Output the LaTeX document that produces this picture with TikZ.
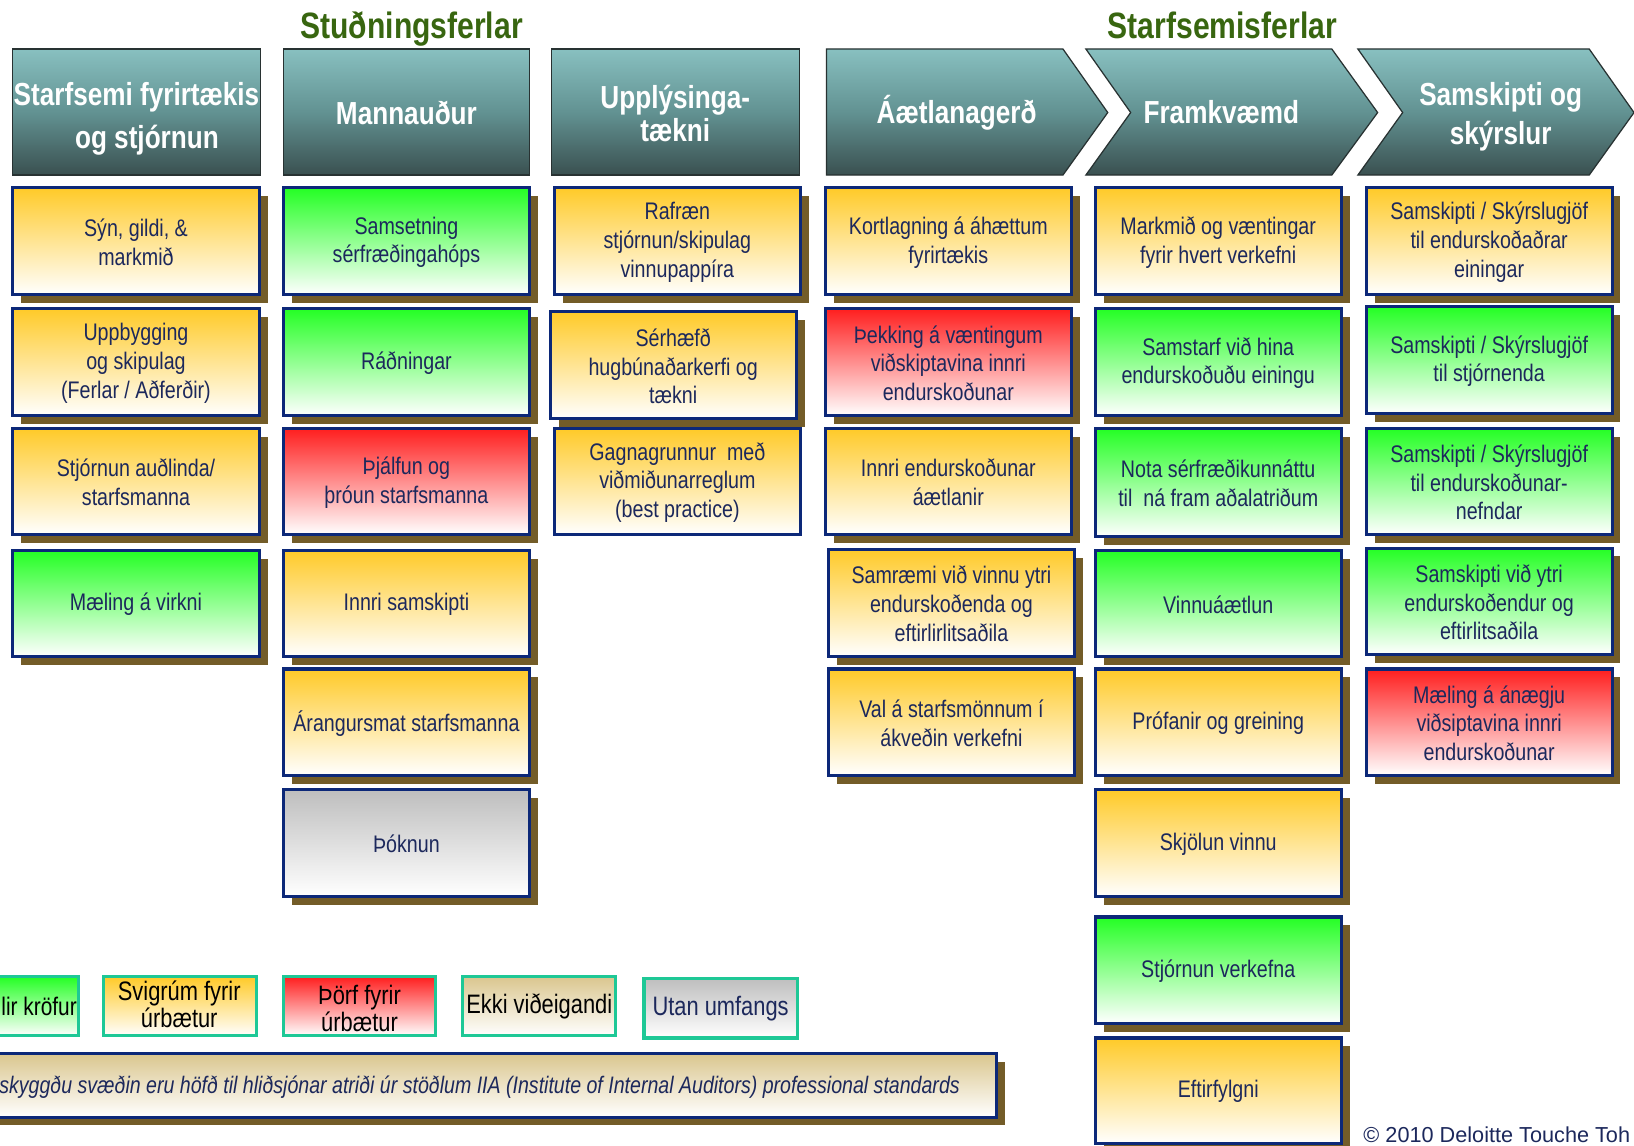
\documentclass[tikz,border=0pt]{standalone}
\usepackage{fontspec}
\setmainfont{Liberation Sans}
\newfontfamily\narrow{Liberation Sans}[FakeStretch=0.82]
\usetikzlibrary{fit}
\definecolor{navytxt}{RGB}{28,40,92}
\definecolor{boxborder}{RGB}{12,40,120}
\definecolor{shadowc}{RGB}{115,92,40}
\definecolor{hdtop}{RGB}{136,192,192}
\definecolor{hdmid}{RGB}{98,146,146}
\definecolor{hdbot}{RGB}{58,80,80}
\definecolor{hdline}{RGB}{40,50,50}
\definecolor{ylwc}{RGB}{255,202,40}
\definecolor{grnc}{RGB}{36,255,36}
\definecolor{redc}{RGB}{255,30,30}
\definecolor{gryc}{RGB}{190,190,190}
\definecolor{tanc}{RGB}{218,198,142}
\definecolor{titlegreen}{RGB}{56,102,16}
\definecolor{legborder}{RGB}{30,200,150}
\tikzset{
  cell/.style={draw=boxborder, line width=1.5pt, inner sep=0pt, outer sep=0pt},
  celltext/.style={inner sep=0pt, align=center, text=navytxt, font=\narrow\fontsize{11.5}{13.8}\selectfont},
  ycell/.style={cell, top color=ylwc, bottom color=white},
  gcell/.style={cell, top color=grnc, bottom color=white},
  rcell/.style={cell, top color=redc, bottom color=white},
  scell/.style={cell, top color=gryc, bottom color=white},
  hdr/.style={draw=hdline, line width=0.6pt, top color=hdtop, bottom color=hdbot, middle color=hdmid, inner sep=0pt},
  hdtext/.style={text=white, align=center, inner sep=0pt, font=\narrow\bfseries\fontsize{15.3}{21}\selectfont},
  titletext/.style={text=titlegreen, inner sep=0pt, anchor=base, font=\narrow\bfseries\fontsize{17.6}{20}\selectfont},
  leg/.style={draw=legborder, line width=1.5pt, inner sep=0pt},
  legtext/.style={inner sep=0pt, align=center, text=black, font=\narrow\fontsize{12.8}{13}\selectfont},
  lgrn/.style={leg, top color=grnc, bottom color=white},
  lyel/.style={leg, top color=ylwc, bottom color=white},
  lred/.style={leg, top color=redc, bottom color=white},
  ltan/.style={leg, top color=tanc, bottom color=white},
  lgry/.style={leg, top color=gryc, bottom color=white},
  notebox/.style={draw=boxborder, line width=1.5pt, inner sep=0pt, top color=tanc, bottom color=white},
  notetext/.style={text=navytxt, inner sep=0pt, font=\narrow\itshape\fontsize{11.45}{12}\selectfont},
}
\newcommand\cellbox[7]{%
  \fill[shadowc] (#2+8,#3+8) rectangle (#4+8,#5+8);
  \node[#6, fit={(#2,#3) (#4,#5)}] (#1) {};
  \node[celltext] (#1t) at ([yshift=-0.5pt]#1.center) {#7};}
\newcommand\cellflat[7]{%
  \node[#6, fit={(#2,#3) (#4,#5)}] (#1) {};
  \node[celltext] (#1t) at ([yshift=-0.5pt]#1.center) {#7};}
\begin{document}
\begin{tikzpicture}[x=0.5pt,y=-0.5pt]
\path[use as bounding box] (0,0) rectangle (1568,1099);
\clip (0,0) rectangle (1568,1099);

% titles
\node[titletext] (t1) at (395,37) {Stuðningsferlar};
\node[titletext] (t2) at (1173,37) {Starfsemisferlar};

% headers
\node[hdr, fit={(12,47) (250,168)}] (h1) {};
\node[hdr, fit={(272,47) (508,168)}] (h2) {};
\node[hdr, fit={(529,47) (767,168)}] (h3) {};
\shade[hdr] (793,47) -- (1020,47) -- (1063,108) -- (1020,168) -- (793,168) -- cycle;
\shade[hdr] (1042,47) -- (1278,47) -- (1322,108) -- (1278,168) -- (1042,168) -- (1085,108) -- cycle;
\shade[hdr] (1303,47) -- (1525,47) -- (1568,108) -- (1525,168) -- (1303,168) -- (1346,108) -- cycle;

\node[hdtext] (h1t) at (131,114) {Starfsemi fyrirtækis\\\hspace*{10pt}og stjórnun};
\node[hdtext] (h2t) at (390,108) {Mannauður};
\node[hdtext, font=\narrow\bfseries\fontsize{15.3}{16}\selectfont] (h3t) at (648,109) {Upplýsinga-\\tækni};
\node[hdtext] (h4t) at (918,108) {Áætlanagerð};
\node[hdtext] (h5t) at (1172,108) {Framkvæmd};
\node[hdtext, font=\narrow\bfseries\fontsize{15.3}{18.5}\selectfont] (h6t) at (1440,112) {Samskipti og\\skýrslur};

% column 1
\cellbox{c1r1}{12}{180}{249}{283}{ycell}{Sýn, gildi, \&\\markmið}
\cellbox{c1r2}{12}{296}{249}{399}{ycell}{Uppbygging\\og skipulag\\(Ferlar / Aðferðir)}
\cellbox{c1r3}{12}{411}{249}{513}{ycell}{Stjórnun auðlinda/\\starfsmanna}
\cellbox{c1r4}{12}{528}{249}{630}{gcell}{Mæling á virkni}

% column 2
\cellbox{c2r1}{272}{180}{508}{283}{gcell}{Samsetning\\sérfræðingahóps}
\cellbox{c2r2}{272}{296}{508}{399}{gcell}{Ráðningar}
\cellbox{c2r3}{272}{411}{508}{513}{rcell}{Þjálfun og\\þróun starfsmanna}
\cellbox{c2r4}{272}{528}{508}{630}{ycell}{Innri samskipti}
\cellbox{c2r5}{272}{642}{508}{744}{ycell}{Árangursmat starfsmanna}
\cellbox{c2r6}{272}{758}{508}{860}{scell}{Þóknun}

% column 3
\cellbox{c3r1}{532}{180}{768}{283}{ycell}{Rafræn\\stjórnun/skipulag\\vinnupappíra}
\cellbox{c3r2}{528}{299}{764}{402}{ycell}{Sérhæfð\\hugbúnaðarkerfi og\\tækni}
\cellflat{c3r3}{532}{411}{768}{513}{ycell}{Gagnagrunnur\ \ með\\viðmiðunarreglum\\(best practice)}

% column 4
\cellbox{c4r1}{792}{180}{1028}{283}{ycell}{Kortlagning á áhættum\\fyrirtækis}
\cellbox{c4r2}{792}{296}{1028}{399}{rcell}{Þekking á væntingum\\viðskiptavina innri\\endurskoðunar}
\cellbox{c4r3}{792}{411}{1028}{513}{ycell}{Innri endurskoðunar\\áætlanir}
\cellbox{c4r4}{795}{527}{1031}{630}{ycell}{Samræmi við vinnu ytri\\endurskoðenda og\\eftirlirlitsaðila}
\cellbox{c4r5}{795}{642}{1031}{744}{ycell}{Val á starfsmönnum í\\ákveðin verkefni}

% column 5
\cellbox{c5r1}{1051}{180}{1287}{283}{ycell}{Markmið og væntingar\\fyrir hvert verkefni}
\cellbox{c5r2}{1051}{296}{1287}{399}{gcell}{Samstarf við hina\\endurskoðuðu einingu}
\cellbox{c5r3}{1051}{411}{1287}{515}{gcell}{Nota sérfræðikunnáttu\\til\ \ ná fram aðalatriðum}
\cellbox{c5r4}{1051}{528}{1287}{630}{gcell}{Vinnuáætlun}
\cellbox{c5r5}{1051}{642}{1287}{744}{ycell}{Prófanir og greining}
\cellbox{c5r6}{1051}{758}{1287}{860}{ycell}{Skjölun vinnu}
\cellbox{c5r7}{1051}{880}{1287}{982}{gcell}{Stjórnun verkefna}
\cellbox{c5r8}{1051}{996}{1287}{1097}{ycell}{Eftirfylgni}

% column 6
\cellbox{c6r1}{1311}{180}{1547}{283}{ycell}{Samskipti / Skýrslugjöf\\til endurskoðaðrar\\einingar}
\cellbox{c6r2}{1311}{294}{1547}{397}{gcell}{Samskipti / Skýrslugjöf\\til stjórnenda}
\cellbox{c6r3}{1311}{411}{1547}{513}{gcell}{Samskipti / Skýrslugjöf\\til endurskoðunar-\\nefndar}
\cellbox{c6r4}{1311}{526}{1547}{628}{gcell}{Samskipti við ytri\\endurskoðendur og\\eftirlitsaðila}
\cellbox{c6r5}{1311}{642}{1547}{744}{rcell}{Mæling á ánægju\\viðsiptavina innri\\endurskoðunar}

% legend
\node[lgrn, fit={(-60,937) (75,994)}] (l1) {};
\node[legtext, anchor=west, font=\narrow\fontsize{12.2}{13}\selectfont] (l1t) at (1,966) {lir kröfur};
\node[lyel, fit={(99,937) (246,994)}] (l2) {};
\node[legtext] (l2t) at (172,964) {Svigrúm fyrir\\úrbætur};
\node[lred, fit={(272,937) (418,994)}] (l3) {};
\node[legtext] (l3t) at (345,968) {Þörf fyrir\\úrbætur};
\node[ltan, fit={(444,937) (591,994)}] (l4) {};
\node[legtext] (l4t) at (l4.center) {Ekki viðeigandi};
\node[lgry, fit={(618,939) (765,996)}] (l5) {};
\node[legtext, text=navytxt] (l5t) at (l5.center) {Utan umfangs};

% note bar
\fill[shadowc] (-20,1019) rectangle (964,1080);
\node[notebox, fit={(-20,1011) (956,1072)}] (note) {};
\node[notetext, anchor=west] (notet) at (-1,1043) {skyggðu svæðin eru höfð til hliðsjónar atriði úr stöðlum IIA (Institute of Internal Auditors) professional standards};

% copyright
\node[anchor=west, inner sep=0pt, text=navytxt, font=\fontsize{10.4}{12}\selectfont] (copy) at (1308,1089) {© 2010 Deloitte Touche Toh};
\end{tikzpicture}
\end{document}
